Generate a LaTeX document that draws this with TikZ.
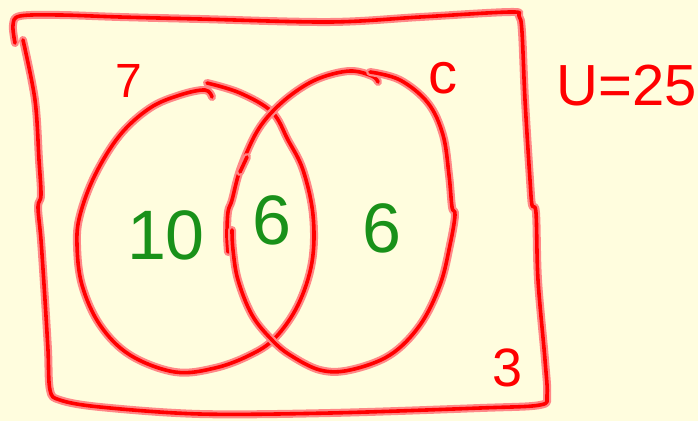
\documentclass[tikz,border=0pt]{standalone}
\usepackage{fontspec}
\setmainfont{Liberation Sans}
\definecolor{paper}{RGB}{255,253,222}
\definecolor{pen}{RGB}{255,0,0}
\definecolor{penhalo}{RGB}{255,135,135}
\definecolor{gpen}{RGB}{25,145,25}
\tikzset{
  redpen/.style={draw=pen, line width=3.6pt, line cap=round, line join=round,
    preaction={draw=penhalo, line width=8pt, line cap=round, line join=round}},
  redtext/.style={text=pen, inner sep=0pt, anchor=center},
  greentext/.style={text=gpen, inner sep=0pt, anchor=center},
}
\begin{document}
\begin{tikzpicture}[x=1pt,y=-1pt]
\fill[paper] (0,0) rectangle (698,421);
\useasboundingbox (0,0) rectangle (698,421);
% frame
\draw[redpen] plot[smooth, tension=0.55] coordinates {
  (15,43) (13,25) (20,16) (60,15) (120,17) (200,19) (330,22) (420,17) (510,12)
  (519,16) (522,32) (525,100) (530,180) (532,205) (536,213) (538,280)
  (545,360) (547,395) (540,405) (480,408) (330,413) (200,414) (100,407)
  (60,400) (50,390) (48,350) (45,300) (41,240) (38,207) (41,195) (39,160)
  (35,100) (23,40)};
% left ellipse
\draw[redpen] plot[smooth, tension=0.6] coordinates {
  (212,97) (205,90) (180,95) (150,108) (120,135) (95,175) (80,215) (77,245)
  (82,285) (100,325) (130,355) (175,372) (215,368) (250,355) (275,338)
  (298,305) (312,262) (313,215) (303,170) (288,140) (272,112) (240,93) (207,83)};
% right ellipse, first stroke
\draw[redpen] plot[smooth, tension=0.6] coordinates {
  (378,82) (372,76) (350,71) (320,78) (295,92) (272,112) (255,135) (240,170)
  (232,200) (228,212) (227,235) (228,252)};
% right ellipse, second stroke
\draw[redpen] plot[smooth, tension=0.6] coordinates {
  (370,72) (400,80) (428,103) (443,135) (449,175) (452,207) (455,215)
  (450,245) (440,285) (420,325) (390,355) (350,370) (320,370) (290,355)
  (272,340) (252,315) (238,280) (233,250) (232,230)};
% small tick
\draw[redpen] (247,157) -- (240,172);
% labels
\node[redtext, font=\fontsize{48}{48}\selectfont] (lt) at (129,81) {7};
\node[redtext, font=\fontsize{58}{58}\selectfont] (lc) at (443,78) {c};
\node[redtext, font=\fontsize{58}{58}\selectfont] (lu) at (627,86) {U=25};
\node[redtext, font=\fontsize{54}{54}\selectfont] (l3) at (508,368) {3};
\node[greentext, font=\fontsize{70}{70}\selectfont] (n10) at (166,235) {10};
\node[greentext, font=\fontsize{70}{70}\selectfont] (n6a) at (272,220) {6};
\node[greentext, font=\fontsize{70}{70}\selectfont] (n6b) at (382,228) {6};
\end{tikzpicture}
\end{document}
